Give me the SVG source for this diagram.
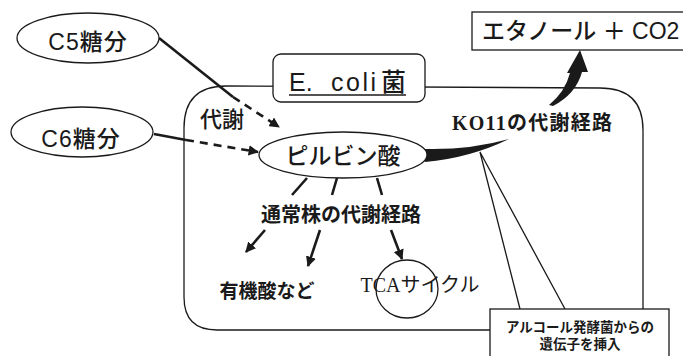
<svg xmlns="http://www.w3.org/2000/svg" width="683" height="356" viewBox="0 0 683 356">
<style>
.ln{fill:none;stroke:#1a1a1a;stroke-width:1.3}
.sh{fill:#fff;stroke:#1a1a1a;stroke-width:1.3}
.th{fill:none;stroke:#1a1a1a;stroke-width:2.6}
.ds{fill:none;stroke:#1a1a1a;stroke-width:2.6;stroke-dasharray:8 6}
.jp{font-family:"Liberation Sans","Noto Sans CJK JP",sans-serif;fill:#1a1a1a;font-weight:500}
.jb{font-family:"Liberation Serif","Noto Sans CJK JP",serif;font-weight:bold;fill:#1a1a1a}
.js{font-family:"Liberation Serif","Noto Sans CJK JP",serif;font-weight:normal;fill:#1a1a1a}
.bd{font-weight:bold}
</style>
<defs>
<marker id="ah" viewBox="0 0 10 10" refX="9" refY="5" markerWidth="4" markerHeight="4" orient="auto" markerUnits="strokeWidth">
<path d="M0,0 L10,5 L0,10 Z" fill="#1a1a1a"/>
</marker>
</defs>
<rect width="683" height="356" fill="#fff"/>
<g id="container">
<path class="ln" d="M226,86 L600,88 Q643,88 643,130 L643,330 L217,330 Q184,330 184,297 L184,128 Q184,86 226,86 Z"/>
</g>
<g id="connectors">
<path class="th" d="M159,38 L233,97"/>
<path class="ds" d="M233,97 L279,127" marker-end="url(#ah)"/>
<path class="th" d="M154,134 L186,140"/>
<path class="ds" d="M186,140 L258,152" marker-end="url(#ah)"/>
<path fill="#1a1a1a" d="M425,149 Q470,150 509,139 Q470,158 425,162 Z"/>
<path fill="#1a1a1a" d="M549,105 Q565,92 570,73 L567,73 L580,50 L588,72 L582,72 Q576,94 553,106 Z"/>
<path class="th" d="M307,178 L292,195"/>
<path class="th" d="M337,178 L332,195"/>
<path class="th" d="M377,178 L382,195"/>
<path class="th" d="M265,230 L246,252" marker-end="url(#ah)"/>
<path class="th" d="M320,230 L308,266" marker-end="url(#ah)"/>
<path class="th" d="M391,230 L402,259" marker-end="url(#ah)"/>
<path class="ln" d="M480,152 L520,309 M480,152 L565,309"/>
</g>
<g id="c5">
<ellipse class="sh" cx="88" cy="38" rx="71" ry="25"/>
<text class="jp" x="88" y="50" font-size="23" text-anchor="middle" letter-spacing="1">C5糖分</text>
</g>
<g id="c6">
<ellipse class="sh" cx="82" cy="132" rx="71" ry="25"/>
<text class="jp" x="81" y="147" font-size="23" text-anchor="middle" letter-spacing="1">C6糖分</text>
</g>
<g id="ecoli">
<rect class="sh" x="273" y="54" width="152" height="48" rx="8"/>
<text class="jp" x="289" y="91" font-size="25">E. <tspan x="331" letter-spacing="2.5">coli</tspan><tspan x="381">菌</tspan></text>
<line x1="289" y1="95" x2="406" y2="95" stroke="#1a1a1a" stroke-width="1.5"/>
</g>
<g id="metab-label">
<text class="jp" x="200" y="127" font-size="22">代謝</text>
</g>
<g id="pyruvate">
<ellipse class="sh" cx="343" cy="155" rx="84" ry="23"/>
<text class="jp" x="343" y="164" font-size="23" text-anchor="middle">ピルビン酸</text>
</g>
<g id="ethanol">
<rect class="sh" x="472" y="12" width="215" height="38"/>
<text class="jp" x="482" y="39" font-size="23">エタノール ＋ CO2</text>
</g>
<g id="ko11">
<text class="jb" x="452" y="130" font-size="20" textLength="160">KO11の代謝経路</text>
</g>
<g id="normal">
<text class="jp bd" x="341" y="222" font-size="20" text-anchor="middle">通常株の代謝経路</text>
</g>
<g id="organic">
<text class="jp bd" x="267" y="298" font-size="19" text-anchor="middle">有機酸など</text>
</g>
<g id="tca">
<ellipse class="ln" cx="407" cy="289" rx="31" ry="29"/>
<text class="js" x="420" y="292" font-size="20" text-anchor="middle">TCAサイクル</text>
</g>
<g id="callout">
<rect class="sh" x="490" y="309" width="179" height="60"/>
<text class="jp bd" x="580" y="332" font-size="13.5" text-anchor="middle">アルコール発酵菌からの</text>
<text class="jp bd" x="580" y="349" font-size="13.5" text-anchor="middle">遺伝子を挿入</text>
</g>
</svg>
